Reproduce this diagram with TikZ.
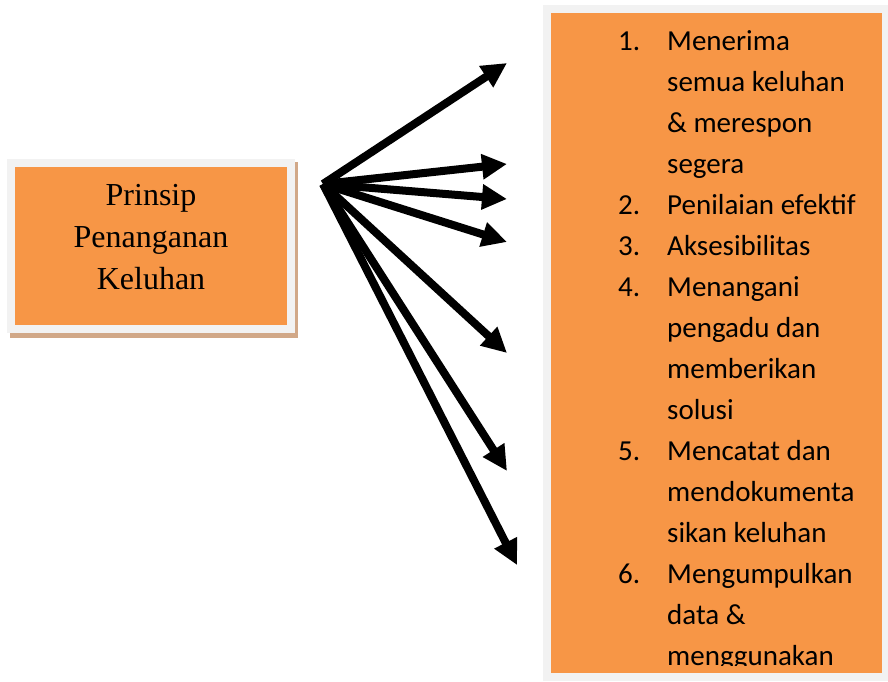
\documentclass[tikz,border=0pt]{standalone}
\usepackage{fontspec}
\setmainfont{Liberation Serif}
\newfontfamily\calibri{Carlito}
\usetikzlibrary{arrows.meta,positioning,backgrounds}
\definecolor{orng}{HTML}{F79646}
\definecolor{bingkai}{HTML}{F2F2F2}
\definecolor{bayang}{HTML}{D1A888}

\begin{document}
\begin{tikzpicture}[x=1pt, y=-1pt,
  kotak/.style={fill=orng, draw=bingkai, line width=8pt, inner sep=0pt},
  arr/.style={line width=8pt, -{Triangle[length=25pt, width=24pt]}},
  itm/.style={anchor=base west, inner sep=0pt, font=\calibri\fontsize{29}{35}\selectfont}]
\useasboundingbox (0,0) rectangle (888,681);
% kotak kiri
\node[kotak, minimum width=280pt, minimum height=166pt] (prinsip) at (151,246) {};
\begin{scope}[on background layer]
\fill[bayang] ([shift={(3,3)}]prinsip.north west) rectangle ([shift={(3,5)}]prinsip.south east);
\end{scope}
\node[align=center, inner sep=0pt, font=\fontsize{32}{42}\selectfont] (judul) at (151,237) {Prinsip\\Penanganan\\Keluhan};
% kotak kanan
\node[kotak, minimum width=339pt, minimum height=668pt] (daftar) at (716.5,343) {};
\begin{scope}
\clip (551,13) rectangle (883,665);
\foreach \nomor/\isi [count=\i] in {1./Menerima, /semua keluhan, /\& merespon, /segera,
  2./Penilaian efektif, 3./Aksesibilitas, 4./Menangani, /pengadu dan, /memberikan, /solusi,
  5./Mencatat dan, /mendokumenta, /sikan keluhan, 6./Mengumpulkan, /data \&, /menggunakan}{
  \node[itm] (n\i) at (618,{50+41*(\i-1)}) {\nomor};
  \node[itm] (b\i) at (667,{50+41*(\i-1)}) {\isi};
}
\end{scope}
% panah
\coordinate (pusat) at (323,184);
\foreach \x/\y [count=\i] in {507/63, 507/164, 507/199, 507/242, 507/353, 507/471, 517/565}{
  \coordinate (u\i) at (\x,\y);
  \draw[arr] (pusat) -- (u\i);
}
\end{tikzpicture}
\end{document}
